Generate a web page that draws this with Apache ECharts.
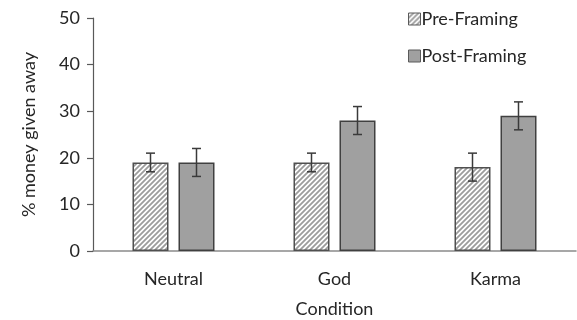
<!DOCTYPE html>
<html>
<head>
<meta charset="utf-8">
<script src="https://cdn.jsdelivr.net/npm/echarts@6/dist/echarts.min.js"></script>
<style>html,body{margin:0;padding:0;background:#fff;}#c{width:577px;height:320px;}</style>
</head>
<body>
<div id="c"></div>
<script>
var categories = ['Neutral', 'God', 'Karma'];
var preMean = [19, 19, 18];
var preErr = [2, 2, 3];
var postMean = [19, 28, 29];
var postErr = [3, 3, 3];
var yTicks = [0, 10, 20, 30, 40, 50];

function makeStripe() {
  var s = 5;
  var cv = document.createElement('canvas');
  cv.width = s; cv.height = s;
  var ctx = cv.getContext('2d');
  ctx.fillStyle = '#ffffff';
  ctx.fillRect(0, 0, s, s);
  ctx.strokeStyle = '#9c9c9c';
  ctx.lineWidth = 1.8;
  ctx.beginPath();
  ctx.moveTo(-1, s + 1); ctx.lineTo(s + 1, -1);
  ctx.moveTo(-1, 1); ctx.lineTo(1, -1);
  ctx.moveTo(s - 1, s + 1); ctx.lineTo(s + 1, s - 1);
  ctx.stroke();
  return cv;
}
var stripe = { image: makeStripe(), repeat: 'repeat' };

var FONT = 'Lato';
var TXT = '#262626';
var FS = 18;
var BAR_W = 36, BAR_GAP = 10;

function errSeries(means, errs, dir) {
  var data = means.map(function (m, i) { return [i, m, m - errs[i], m + errs[i]]; });
  return {
    type: 'custom',
    z: 10,
    silent: true,
    data: data,
    encode: { x: 0, y: [1, 2, 3] },
    renderItem: function (params, api) {
      var i = api.value(0);
      var lo = api.coord([i, api.value(2)]);
      var hi = api.coord([i, api.value(3)]);
      var x = lo[0] + dir * (BAR_W + BAR_GAP) / 2;
      var cap = 4.5;
      var st = { stroke: '#3a3a3a', lineWidth: 1.5 };
      return {
        type: 'group',
        children: [
          { type: 'line', shape: { x1: x, y1: lo[1], x2: x, y2: hi[1] }, style: st },
          { type: 'line', shape: { x1: x - cap, y1: lo[1], x2: x + cap, y2: lo[1] }, style: st },
          { type: 'line', shape: { x1: x - cap, y1: hi[1], x2: x + cap, y2: hi[1] }, style: st }
        ]
      };
    }
  };
}

var chart = echarts.init(document.getElementById('c'), null, { renderer: 'canvas' });
chart.setOption({
  animation: false,
  backgroundColor: '#ffffff',
  textStyle: { fontFamily: FONT, color: TXT },
  grid: { left: 93, right: 1, top: 18, bottom: 69, containLabel: false, outerBoundsMode: 'none' },
  legend: {
    orient: 'vertical',
    left: 403,
    top: 5,
    icon: 'rect',
    itemWidth: 12,
    itemHeight: 12,
    itemGap: 19,
    textStyle: { fontFamily: FONT, fontSize: FS, color: TXT, padding: [0, 0, 0, -4] },
    data: [
      { name: 'Pre-Framing', itemStyle: { color: stripe, borderColor: '#5a5a5a', borderWidth: 1 } },
      { name: 'Post-Framing', itemStyle: { color: '#a0a0a0', borderColor: '#5a5a5a', borderWidth: 1 } }
    ]
  },
  xAxis: {
    type: 'category',
    data: categories,
    name: 'Condition',
    nameLocation: 'middle',
    nameGap: 49,
    nameTextStyle: { fontFamily: FONT, fontSize: FS, color: TXT },
    axisLine: { lineStyle: { color: '#8a8a8a', width: 1.5 } },
    axisTick: { show: false },
    axisLabel: { fontFamily: FONT, fontSize: FS, color: TXT, margin: 19 }
  },
  yAxis: {
    type: 'value',
    min: yTicks[0],
    max: yTicks[yTicks.length - 1],
    interval: 10,
    name: '% money given away',
    nameLocation: 'middle',
    nameGap: 55,
    nameTextStyle: { fontFamily: FONT, fontSize: FS, color: TXT },
    axisLine: { show: true, lineStyle: { color: '#595959', width: 1.2 } },
    axisTick: { show: true, length: 6, lineStyle: { color: '#595959', width: 1.2 } },
    splitLine: { show: false },
    axisLabel: { fontFamily: FONT, fontSize: FS, color: TXT, margin: 13 }
  },
  series: [
    {
      name: 'Pre-Framing',
      type: 'bar',
      data: preMean,
      barWidth: BAR_W,
      barGap: (BAR_GAP / BAR_W * 100) + '%',
      itemStyle: { color: stripe, borderColor: '#505050', borderWidth: 1.5 }
    },
    {
      name: 'Post-Framing',
      type: 'bar',
      data: postMean,
      barWidth: BAR_W,
      itemStyle: { color: '#a0a0a0', borderColor: '#404040', borderWidth: 1.5 }
    },
    errSeries(preMean, preErr, -1),
    errSeries(postMean, postErr, 1)
  ]
});
</script>
</body>
</html>
